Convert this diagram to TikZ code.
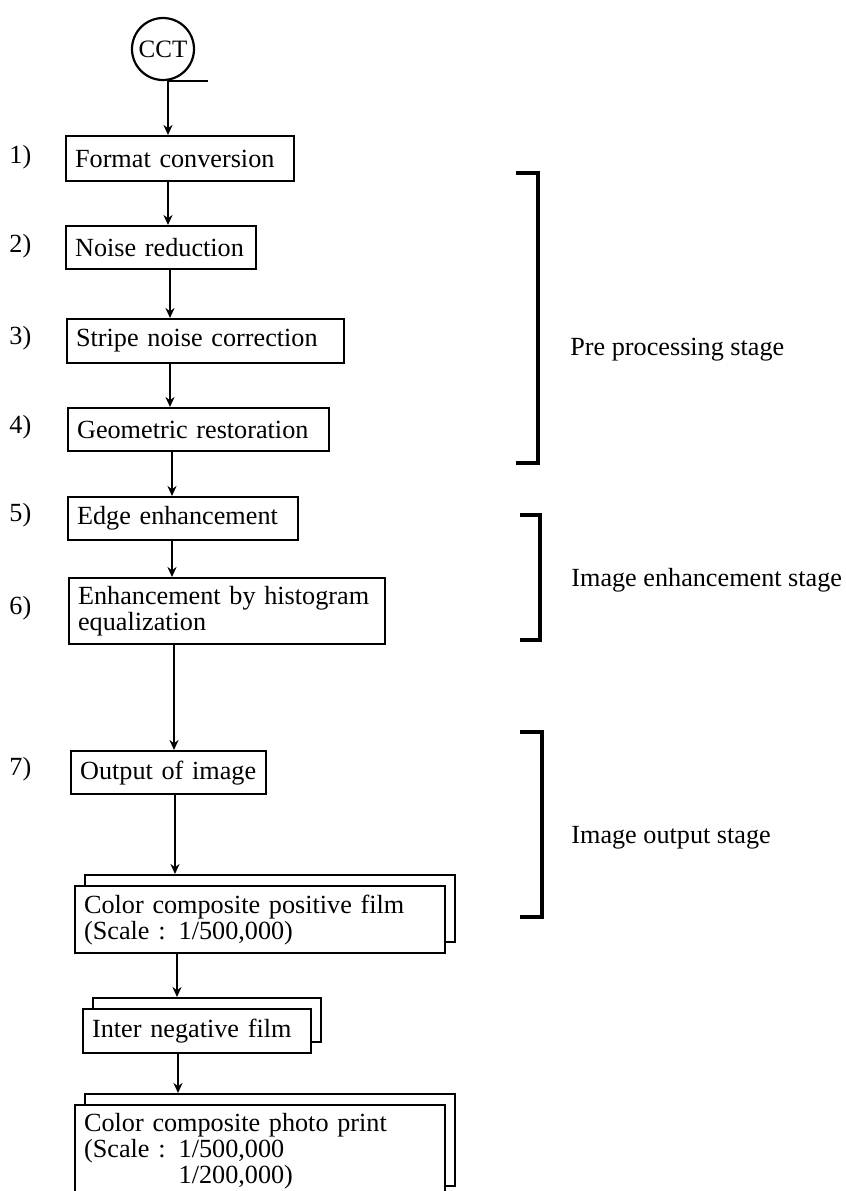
\documentclass[tikz,border=0pt]{standalone}
\usepackage{fontspec}
\setmainfont{Liberation Serif}
\usetikzlibrary{positioning}
\usetikzlibrary{arrows.meta}
\usetikzlibrary{shadows}

\begin{document}
\begin{tikzpicture}[x=0.5pt, y=-0.5pt,
        font=\fontsize{13.1}{13}\selectfont,
        box/.style={draw, fill=white, line width=1.1pt, anchor=north west, align=left, inner xsep=4.5pt, inner ysep=0pt},
        film/.style={box, copy shadow={shadow xshift=5pt, shadow yshift=5.5pt}},
        num/.style={anchor=west, inner sep=0pt},
        stage/.style={anchor=west, inner sep=0pt},
        arr/.style={-{Stealth[length=5pt,width=4.5pt]}, line width=1.2pt},
        brace/.style={line width=1.6pt}]
            \useasboundingbox (0,0) rectangle (846,1191);

            \node[draw, circle, line width=1.1pt, minimum size=31pt, inner sep=0.5pt, font=\fontsize{12.5}{12}\selectfont] (cct) at (163,49) {CCT};
            \coordinate (tick) at (168,81);
            \draw[line width=1.2pt] (tick) -- ++(40,0);

            \node[box, text width=105pt, minimum height=22.5pt] (fmt) at (65,135) {Format conversion};
            \node[box, text width=86pt, minimum height=21.5pt] (noise) at (65,225) {Noise reduction};
            \node[box, text width=129.5pt, minimum height=22pt] (stripe) at (66,318) {Stripe noise correction};
            \node[box, text width=121.5pt, minimum height=21.5pt] (geo) at (67,407) {Geometric restoration};
            \node[box, text width=106pt, minimum height=21.5pt] (edge) at (67,496) {Edge enhancement};
            \node[box, text width=149pt, minimum height=33pt] (enh) at (68,577) {Enhancement by histogram\\equalization};
            \node[box, text width=88.5pt, minimum height=21.5pt] (out) at (70,750) {Output of image};
            \node[film, text width=176pt, minimum height=33.5pt] (pos) at (74,885) {Color composite positive film\\(Scale : 1/500,000)};
            \node[film, text width=105pt, minimum height=22pt] (inter) at (82,1008) {Inter negative film};
            \node[film, text width=176pt, minimum height=46pt] (photo) at (74,1104) {Color composite photo print\\(Scale : 1/500,000\\\phantom{(Scale : }1/200,000)};

            \node[num] (n1) at (9,157) {1)};
            \node[num] (n2) at (9,246) {2)};
            \node[num] (n3) at (9,338) {3)};
            \node[num] (n4) at (9,427) {4)};
            \node[num] (n5) at (9,515) {5)};
            \node[num] (n6) at (9,608) {6)};
            \node[num] (n7) at (9,769) {7)};

            \draw[arr] (tick) -- (tick |- fmt.north);
            \foreach \a/\b/\x/\sh in {fmt/noise/168/0, noise/stripe/170/0, stripe/geo/170/0, geo/edge/172/0, edge/enh/172/0, enh/out/174/0, out/pos/175/5.5, pos/inter/177/5.5, inter/photo/178/5.5}
                \draw[arr, shorten >=\sh pt] (\x,0 |- \a.south) -- (\x,0 |- \b.north);

            \draw[brace] (516,173) -- (538,173) -- (538,463) -- (516,463);
            \draw[brace] (520,515) -- (540,515) -- (540,640) -- (520,640);
            \draw[brace] (520,732) -- (542,732) -- (542,917) -- (520,917);

            \node[stage] (pre) at (570,350) {Pre processing stage};
            \node[stage] (imgenh) at (571,580) {Image enhancement stage};
            \node[stage] (imgout) at (571,838) {Image output stage};
        \end{tikzpicture}
\end{document}
